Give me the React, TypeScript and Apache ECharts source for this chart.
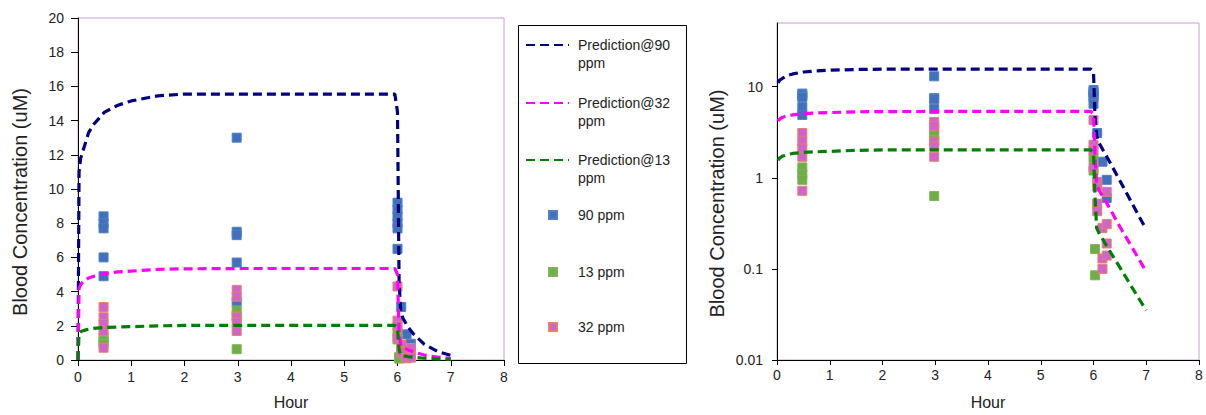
import React, { useEffect, useRef } from "react";
import * as echarts from "echarts";

// ---- Data ----
const predTime = [0, 0.02, 0.05, 0.1, 0.15, 0.2, 0.3, 0.5, 0.75, 1, 1.5, 2, 3, 4, 5, 5.95, 6.0, 6.03, 6.06, 6.1, 6.2, 6.3, 6.5, 6.75, 7];
const pred90 = [0, 11.0, 11.8, 12.3, 12.8, 13.3, 13.8, 14.5, 14.9, 15.15, 15.45, 15.55, 15.55, 15.55, 15.55, 15.55, 14.5, 4.5, 2.9, 2.45, 1.92, 1.52, 0.93, 0.5, 0.27];
const pred32 = [0, 4.2, 4.4, 4.6, 4.7, 4.8, 4.9, 5.05, 5.15, 5.2, 5.3, 5.33, 5.35, 5.35, 5.35, 5.35, 5.0, 1.6, 0.85, 0.74, 0.59, 0.47, 0.29, 0.165, 0.093];
const pred13 = [0, 1.55, 1.65, 1.72, 1.76, 1.8, 1.85, 1.9, 1.93, 1.95, 2.0, 2.02, 2.02, 2.02, 2.02, 2.02, 1.9, 0.6, 0.28, 0.25, 0.2, 0.16, 0.104, 0.06, 0.035];

const obs90: [number, number][] = [
  [0.48, 8.4], [0.48, 8.0], [0.48, 7.7], [0.48, 6.0], [0.48, 4.9],
  [2.98, 13.0], [2.98, 7.5], [2.98, 7.3], [2.98, 5.7], [2.98, 3.4],
  [6.0, 9.2], [6.0, 8.8], [6.0, 8.4], [6.0, 8.0], [6.0, 7.7], [6.0, 6.5],
  [6.07, 3.1], [6.17, 1.5], [6.25, 0.95], [6.25, 0.6],
];
const obs13: [number, number][] = [
  [0.48, 1.3], [0.48, 1.1], [0.48, 0.95],
  [2.98, 2.9], [2.98, 2.6], [2.98, 0.63],
  [6.0, 1.65], [6.0, 1.2], [6.03, 0.165], [6.03, 0.085],
];
const obs32: [number, number][] = [
  [0.48, 3.1], [0.48, 2.5], [0.48, 2.1], [0.48, 1.7], [0.48, 0.72],
  [2.98, 4.1], [2.98, 3.7], [2.98, 2.5], [2.98, 2.2], [2.98, 1.7],
  [6.0, 4.3], [6.0, 2.3], [6.0, 2.0], [6.0, 1.3],
  [6.07, 0.9], [6.07, 0.8], [6.07, 0.52], [6.07, 0.43],
  [6.17, 0.28], [6.17, 0.13], [6.17, 0.1],
  [6.25, 0.7], [6.25, 0.31], [6.25, 0.19], [6.25, 0.14],
];

const linearTicks = [0, 2, 4, 6, 8, 10, 12, 14, 16, 18, 20];
const logTicks = [0.01, 0.1, 1, 10];
const xLabel = "Hour";
const yLabel = "Blood Concentration (uM)";

const FONT = "'Liberation Sans', Arial, sans-serif";
const TXT = "#222";

const lineDefs = [
  { name: "Prediction@90", values: pred90, color: "#000080", legendY: 45 },
  { name: "Prediction@32", values: pred32, color: "#FF00FF", legendY: 103 },
  { name: "Prediction@13", values: pred13, color: "#008000", legendY: 160 },
];
const scatterDefs = [
  { name: "90 ppm", data: obs90, color: "#4170BD", border: "#4F7FC4", legendY: 215 },
  { name: "13 ppm", data: obs13, color: "#6FAD47", border: "#7CB556", legendY: 272 },
  { name: "32 ppm", data: obs32, color: "#D064C8", border: "#E5806A", legendY: 327 },
];

function buildOption() {
  const series: any[] = [];
  [0, 1].forEach((gi) => {
    lineDefs.forEach((d) => {
      const pts = predTime
        .map((t, i) => [t, d.values[i]])
        .filter((p) => gi === 0 || p[1] > 0);
      series.push({
        type: "line",
        name: d.name,
        xAxisIndex: gi,
        yAxisIndex: gi,
        data: pts,
        symbol: "none",
        showSymbol: false,
        silent: true,
        lineStyle: { color: d.color, width: 3.2, type: [9, 5] },
        itemStyle: { color: d.color },
      });
    });
    scatterDefs.forEach((d) => {
      series.push({
        type: "scatter",
        name: d.name,
        xAxisIndex: gi,
        yAxisIndex: gi,
        data: d.data,
        symbol: "rect",
        symbolSize: 9,
        silent: true,
        itemStyle: { color: d.color, borderColor: d.border, borderWidth: 1, opacity: 1 },
      });
    });
  });

  const xAxisCommon = (gi: number, margin: number, tickLen: number, nameGap: number) => ({
    type: "value",
    gridIndex: gi,
    min: 0,
    max: 8,
    interval: 1,
    name: xLabel,
    nameLocation: "middle",
    nameGap,
    nameTextStyle: { fontSize: 16, color: TXT, fontFamily: FONT },
    axisLine: { show: true, lineStyle: { color: "#000", width: 1 } },
    axisTick: { show: true, length: tickLen, lineStyle: { color: "#000" } },
    axisLabel: { fontSize: 14, color: TXT, fontFamily: FONT, margin },
    splitLine: { show: false },
  });

  const legends: any[] = [];
  lineDefs.forEach((d) => {
    legends.push({
      data: [d.name],
      orient: "vertical",
      left: 525,
      top: d.legendY - 27,
      itemWidth: 43,
      itemHeight: 14,
      padding: 0,
      selectedMode: false,
      formatter: (n: string) => "\n" + n + "\nppm",
      itemStyle: { opacity: 0 },
      textStyle: { fontSize: 14, lineHeight: 18, color: TXT, fontFamily: FONT, padding: [0, 0, 0, 4] },
    });
  });
  scatterDefs.forEach((d) => {
    legends.push({
      data: [d.name],
      orient: "vertical",
      left: 548,
      top: d.legendY - 9,
      itemWidth: 8,
      itemHeight: 8,
      padding: 0,
      selectedMode: false,
      textStyle: { fontSize: 14, lineHeight: 18, color: TXT, fontFamily: FONT, padding: [0, 0, 0, 16] },
    });
  });

  return {
    animation: false,
    backgroundColor: "#fff",
    grid: [
      { left: 78, top: 18, width: 426, height: 345, show: true, borderColor: "#C8A0CC", borderWidth: 1, backgroundColor: "transparent" },
      { left: 777, top: 23, width: 422, height: 343, show: true, borderColor: "#C8A0CC", borderWidth: 1, backgroundColor: "transparent" },
    ],
    xAxis: [xAxisCommon(0, 10, 6, 34), xAxisCommon(1, 8, 5, 34)],
    yAxis: [
      {
        type: "value",
        gridIndex: 0,
        min: linearTicks[0],
        max: linearTicks[linearTicks.length - 1],
        interval: 2,
        name: yLabel,
        nameLocation: "middle",
        nameGap: 48,
        nameTextStyle: { fontSize: 20, color: TXT, fontFamily: FONT, padding: [0, 26, 0, 0] },
        axisLine: { show: true, lineStyle: { color: "#000", width: 1 } },
        axisTick: { show: true, length: 7, lineStyle: { color: "#000" } },
        axisLabel: { fontSize: 14, color: TXT, fontFamily: FONT, margin: 14 },
        splitLine: { show: false },
      },
      {
        type: "log",
        gridIndex: 1,
        logBase: 10,
        min: 0.01,
        max: 50,
        name: yLabel,
        nameLocation: "middle",
        nameGap: 50,
        nameTextStyle: { fontSize: 20, color: TXT, fontFamily: FONT, padding: [0, 24, 0, 0] },
        axisLine: { show: true, lineStyle: { color: "#000", width: 1 } },
        axisTick: { show: true, length: 5, lineStyle: { color: "#000" }, customValues: logTicks },
        axisLabel: {
          fontSize: 14,
          color: TXT,
          fontFamily: FONT,
          margin: 14,
          customValues: logTicks,
          formatter: (v: number) => String(v),
        },
        minorTick: { show: false },
        splitLine: { show: false },
      },
    ],
    legend: legends,
    graphic: [
      {
        type: "rect",
        shape: { x: 518.5, y: 25.5, width: 168, height: 338 },
        style: { fill: "none", stroke: "#000", lineWidth: 1 },
        silent: true,
        z: -1,
      },
    ],
    series,
  };
}

export default function App() {
  const ref = useRef<HTMLDivElement>(null);
  useEffect(() => {
    document.body.style.margin = "0";
    document.body.style.overflow = "hidden";
    if (!ref.current) return;
    const chart = echarts.init(ref.current, undefined, { renderer: "svg" });
    chart.setOption(buildOption() as any);
    return () => chart.dispose();
  }, []);
  return <div ref={ref} style={{ width: 1206, height: 415, overflow: "hidden" }} />;
}
